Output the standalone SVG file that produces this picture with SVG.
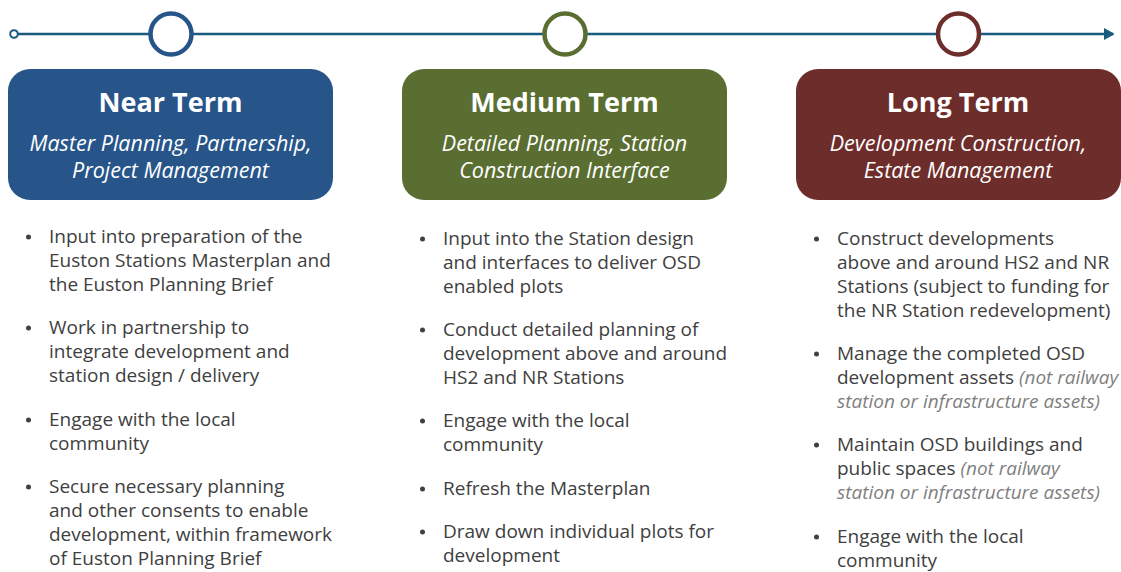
<svg xmlns="http://www.w3.org/2000/svg" width="1121" height="572" viewBox="0 0 1121 572">
<style>
.tl{stroke:#195a7f;stroke-width:2.5;fill:none}
.title{font-family:"Open Sans","Noto Sans",sans-serif;font-weight:bold;font-size:27px;fill:#fff;text-anchor:middle}
.sub{font-family:"Open Sans","Noto Sans",sans-serif;font-style:italic;font-size:21.5px;fill:#fff;text-anchor:middle}
.b{font-family:"Open Sans","Noto Sans",sans-serif;font-size:19px;fill:#404040}
.it{font-style:italic;fill:#7f7f7f}
.dot{fill:#404040}
</style>
<defs>
<marker id="arr" markerWidth="10" markerHeight="12" refX="9" refY="6" orient="auto" markerUnits="userSpaceOnUse">
<path d="M0,0 L11,6 L0,12 Z" fill="#195a7f"/>
</marker>
</defs>
<g id="connectors">
<line class="tl" x1="18" y1="34" x2="1113" y2="34" marker-end="url(#arr)"/>
<circle cx="14" cy="34" r="3.8" fill="#fff" stroke="#195a7f" stroke-width="2"/>
</g>
<g id="near">
<circle cx="171" cy="34" r="20.5" fill="#fff" stroke="#27558a" stroke-width="4.5"/>
<rect x="8" y="69" width="325" height="131" rx="22" fill="#27558a"/>
<text class="title" x="170.5" y="112">Near Term</text>
<text class="sub" x="170.5" y="151">Master Planning, Partnership,</text>
<text class="sub" x="170.5" y="178">Project Management</text>
<g class="b">
<circle class="dot" cx="28.5" cy="237" r="2.5"/>
<text x="49" y="243">Input into preparation of the</text>
<text x="49" y="267">Euston Stations Masterplan and</text>
<text x="49" y="291">the Euston Planning Brief</text>
<circle class="dot" cx="28.5" cy="328" r="2.5"/>
<text x="49" y="334">Work in partnership to</text>
<text x="49" y="358">integrate development and</text>
<text x="49" y="382">station design / delivery</text>
<circle class="dot" cx="28.5" cy="420" r="2.5"/>
<text x="49" y="426">Engage with the local</text>
<text x="49" y="450">community</text>
<circle class="dot" cx="28.5" cy="487" r="2.5"/>
<text x="49" y="493">Secure necessary planning</text>
<text x="49" y="517">and other consents to enable</text>
<text x="49" y="541">development, within framework</text>
<text x="49" y="565">of Euston Planning Brief</text>
</g>
</g>
<g id="medium">
<circle cx="565" cy="34" r="20.5" fill="#fff" stroke="#5a6e31" stroke-width="4.5"/>
<rect x="402" y="69" width="325" height="131" rx="22" fill="#5a6e31"/>
<text class="title" x="564.5" y="112">Medium Term</text>
<text class="sub" x="564.5" y="151">Detailed Planning, Station</text>
<text class="sub" x="564.5" y="178">Construction Interface</text>
<g class="b">
<circle class="dot" cx="422.5" cy="239" r="2.5"/>
<text x="443" y="245">Input into the Station design</text>
<text x="443" y="269">and interfaces to deliver OSD</text>
<text x="443" y="293">enabled plots</text>
<circle class="dot" cx="422.5" cy="330" r="2.5"/>
<text x="443" y="336">Conduct detailed planning of</text>
<text x="443" y="360">development above and around</text>
<text x="443" y="384">HS2 and NR Stations</text>
<circle class="dot" cx="422.5" cy="421" r="2.5"/>
<text x="443" y="427">Engage with the local</text>
<text x="443" y="451">community</text>
<circle class="dot" cx="422.5" cy="489" r="2.5"/>
<text x="443" y="495">Refresh the Masterplan</text>
<circle class="dot" cx="422.5" cy="532" r="2.5"/>
<text x="443" y="538">Draw down individual plots for</text>
<text x="443" y="562">development</text>
</g>
</g>
<g id="long">
<circle cx="958.5" cy="34" r="20.5" fill="#fff" stroke="#6d2d2b" stroke-width="4.5"/>
<rect x="796" y="69" width="325" height="131" rx="22" fill="#6d2d2b"/>
<text class="title" x="958" y="112">Long Term</text>
<text class="sub" x="958" y="151">Development Construction,</text>
<text class="sub" x="958" y="178">Estate Management</text>
<g class="b">
<circle class="dot" cx="816.5" cy="239" r="2.5"/>
<text x="837" y="245">Construct developments</text>
<text x="837" y="269">above and around HS2 and NR</text>
<text x="837" y="293">Stations (subject to funding for</text>
<text x="837" y="317">the NR Station redevelopment)</text>
<circle class="dot" cx="816.5" cy="354" r="2.5"/>
<text x="837" y="360">Manage the completed OSD</text>
<text x="837" y="384">development assets <tspan class="it">(not railway</tspan></text>
<text x="837" y="408" class="it">station or infrastructure assets)</text>
<circle class="dot" cx="816.5" cy="445" r="2.5"/>
<text x="837" y="451">Maintain OSD buildings and</text>
<text x="837" y="475">public spaces <tspan class="it">(not railway</tspan></text>
<text x="837" y="499" class="it">station or infrastructure assets)</text>
<circle class="dot" cx="816.5" cy="537" r="2.5"/>
<text x="837" y="543">Engage with the local</text>
<text x="837" y="567">community</text>
</g>
</g>
</svg>
